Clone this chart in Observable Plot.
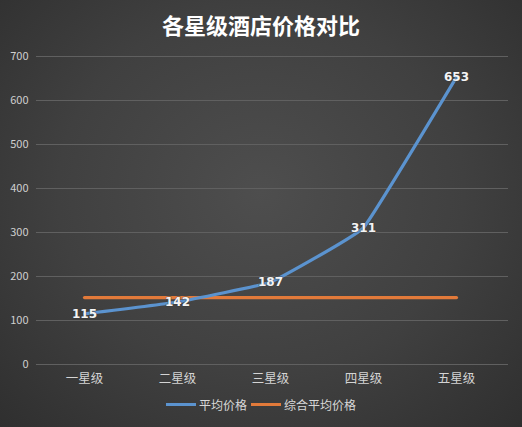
<!DOCTYPE html>
<html>
<head>
<meta charset="utf-8">
<script src="https://cdn.jsdelivr.net/npm/d3@7"></script>
<script src="https://cdn.jsdelivr.net/npm/@observablehq/plot@0.6"></script>
<style>
  html, body { margin: 0; padding: 0; }
  body {
    width: 522px; height: 427px; overflow: hidden;
    background: radial-gradient(ellipse at 50% 45%, #4e4e4e 0%, #404040 55%, #2f2f2f 100%);
    font-family: "Noto Sans CJK SC", "Noto Sans", sans-serif;
  }
  #title {
    height: 40px; line-height: 48px; text-align: center;
    color: #ffffff; font-weight: bold; font-size: 22px;
  }
  #legend {
    display: flex; justify-content: center; align-items: center;
    margin-top: 6px; color: #d8d8d8; font-size: 12px; gap: 4px;
  }
  .sw { display: inline-block; width: 30px; height: 3px; margin-right: 3px; }
</style>
</head>
<body>
<div id="title">各星级酒店价格对比</div>
<div id="chart"></div>
<div id="legend"></div>
<script>
const categories = ["一星级", "二星级", "三星级", "四星级", "五星级"];
const avgPrice = [115, 142, 187, 311, 653];
const overallAvg = [152, 152, 152, 152, 152];
const yTicks = [0, 100, 200, 300, 400, 500, 600, 700];
const seriesNames = ["平均价格", "综合平均价格"];
const seriesColors = ["#5b93cf", "#e27a3a"];

const avgData = categories.map((c, i) => ({cat: c, v: avgPrice[i]}));
const overallData = categories.map((c, i) => ({cat: c, v: overallAvg[i]}));

const chart = Plot.plot({
  width: 522,
  height: 350,
  marginLeft: 36,
  marginRight: 14,
  marginTop: 16,
  marginBottom: 26,
  style: {background: "transparent", color: "#cfcfcf", fontSize: "11px", fontFamily: "'Noto Sans CJK SC', sans-serif"},
  x: {type: "point", domain: categories, range: [37, 502], padding: 0.5, label: null},
  y: {domain: [0, 700], ticks: yTicks, label: null},
  marks: [
    Plot.ruleY(yTicks, {stroke: "#606060", strokeWidth: 1}),
    Plot.axisY({ticks: yTicks, tickSize: 0, tickPadding: 8, label: null, fill: "#cfcfcf"}),
    Plot.axisX({tickSize: 0, tickPadding: 10, label: null, fill: "#d4d4d4", fontSize: 12.5}),
    Plot.line(overallData, {x: "cat", y: "v", stroke: seriesColors[1], strokeWidth: 3.2}),
    Plot.line(avgData, {x: "cat", y: "v", stroke: seriesColors[0], strokeWidth: 3.2, curve: "cardinal", tension: 0.75}),
    Plot.text(avgData, {x: "cat", y: "v", text: d => String(d.v), fill: "#f4f4f4", fontWeight: "bold", fontSize: 12, fontFamily: "'DejaVu Sans', sans-serif", stroke: "#3a3a3a", strokeWidth: 1.5, strokeOpacity: 0.5})
  ]
});
document.getElementById("chart").appendChild(chart);

const legend = document.getElementById("legend");
seriesNames.forEach((n, i) => {
  const item = document.createElement("span");
  item.style.display = "inline-flex";
  item.style.alignItems = "center";
  item.innerHTML = `<span class="sw" style="background:${seriesColors[i]}"></span>${n}`;
  legend.appendChild(item);
});
</script>
</body>
</html>
